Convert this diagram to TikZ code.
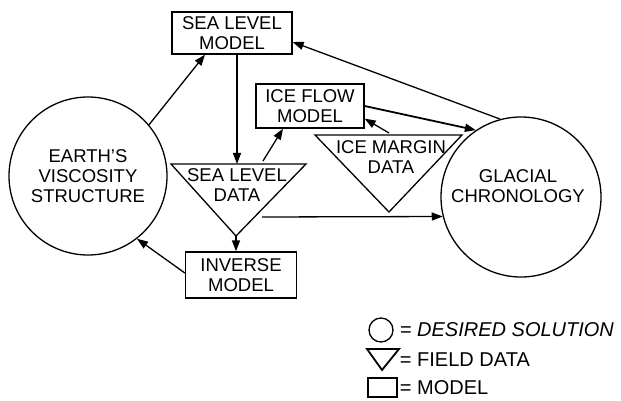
\documentclass[tikz,border=0pt]{standalone}
\usepackage{fontspec}
\setmainfont{Liberation Sans}
\usetikzlibrary{arrows.meta}
\begin{document}
\begin{tikzpicture}[x=1pt,y=-1pt,line width=1.3pt,
    flow/.style={-{Triangle[length=11pt,width=8pt]}},
    model/.style={draw,rectangle,align=center,inner sep=0pt},
    solution/.style={draw,circle,align=center,inner sep=0pt},
    every node/.style={font=\fontsize{18.5}{20}\selectfont}]
  \useasboundingbox (0,0) rectangle (621,401);
  % desired solutions
  \node[solution,minimum size=158pt] (earth) at (88,176) {EARTH'S\\VISCOSITY\\STRUCTURE};
  \node[solution,minimum size=160pt] (glacial) at (521,197) {};
  \node[align=center] (glacialtext) at (518,186) {GLACIAL\\CHRONOLOGY};
  % models
  \node[model,minimum width=120pt,minimum height=42pt] (slm) at (232,33) {SEA LEVEL\\MODEL};
  \node[model,minimum width=108pt,minimum height=44pt] (ifm) at (310,106) {ICE FLOW\\MODEL};
  \node[model,minimum width=111pt,minimum height=46pt] (inv) at (241,275) {INVERSE\\MODEL};
  % field data
  \coordinate (sldL) at (171,164);
  \coordinate (sldR) at (306,164);
  \coordinate (sldB) at (236,236);
  \coordinate (sldT) at (237,164);
  \coordinate (sldout) at (262,217);
  \draw (sldL) -- (sldR) -- (sldB) -- cycle;
  \node[align=center] (sld) at (237,185) {SEA LEVEL\\DATA};
  \coordinate (imdL) at (315,135);
  \coordinate (imdR) at (462,135);
  \coordinate (imdB) at (389,212);
  \coordinate (imdT) at (389,135);
  \draw (imdL) -- (imdR) -- (imdB) -- cycle;
  \node[align=center] (imd) at (391,157) {ICE MARGIN\\DATA};
  % connectors
  \draw[flow] (earth.40) -- ([xshift=-27pt]slm.south);
  \draw[flow] (slm.south -| sldT) -- (sldT);
  \draw[flow] ([xshift=26pt,yshift=3pt]sldT) -- ([xshift=-27pt]ifm.south);
  \draw[flow] (sldB) -- (inv.north -| sldB);
  \draw[flow] ([yshift=2pt]inv.west) -- (earth.-52);
  \draw[flow] (glacial.105) -- ([yshift=-9pt]slm.east);
  \draw[flow,line width=1.8pt] (ifm.east) -- (glacial.124);
  \draw[flow] ([yshift=2pt]imdT) -- ([yshift=10pt]ifm.south east);
  \draw[flow] (sldout) -- (glacial.194.5);
  % key
  \node[solution,minimum size=24pt] (keysol) at (381,330) {};
  \node[anchor=west,font=\fontsize{20}{22}\selectfont\itshape] (keysoltext) at (396,330) {= DESIRED SOLUTION};
  \draw[line width=1.8pt] (367,349) -- (399,349) -- (382,370) -- cycle;
  \node[anchor=west,font=\fontsize{20}{22}\selectfont] (keydattext) at (396,360) {= FIELD DATA};
  \node[model,minimum width=29pt,minimum height=19pt,line width=2pt] (keymod) at (382.5,387.5) {};
  \node[anchor=west,font=\fontsize{20}{22}\selectfont] (keymodtext) at (396,388) {= MODEL};
\end{tikzpicture}
\end{document}
